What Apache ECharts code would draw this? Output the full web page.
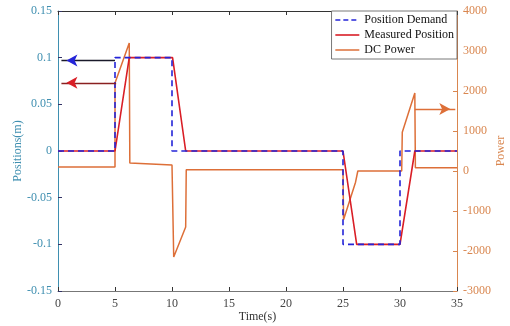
<!DOCTYPE html>
<html>
<head>
<meta charset="utf-8">
<script src="https://cdn.jsdelivr.net/npm/echarts@6/dist/echarts.min.js"></script>
<style>html,body{margin:0;padding:0;background:#fff}#c{width:510px;height:326px}</style>
</head>
<body>
<div id="c"></div>
<script>
// ---- data ----
const xTicks = [0, 5, 10, 15, 20, 25, 30, 35];
const demandTime = [0, 5, 5, 10, 10, 25, 25, 30, 30, 35];
const demandPos  = [0, 0, 0.1, 0.1, 0, 0, -0.1, -0.1, 0, 0];
const measuredTime = [0, 5, 6.25, 10.05, 11.2, 25, 26.2, 30, 31.3, 35];
const measuredPos  = [0, 0, 0.1, 0.1, 0, 0, -0.1, -0.1, 0, 0];
const powerTime = [0, 5, 5, 6.25, 6.3, 6.4, 10, 10.05, 10.15, 11.2, 11.25, 25, 25.05, 26.1, 26.3, 30.15, 30.2, 31.3, 31.35, 35];
const powerVal  = [100, 100, 2200, 3200, 200, 150, 150, 150, -2150, -1400, 30, 30, -1220, -280, 0, 0, 970, 1950, 80, 80];
// annotation arrows: [fromX, fromY] -> [toX, toY]
const blueArrow   = [[5.0, 0.097], [0.3, 0.097]];
const redArrow    = [[5.1, 0.073], [0.3, 0.073]];
const orangeArrow = [[31.3, 1550], [34.85, 1550]];

const pair = (xs, ys) => xs.map((x, i) => [x, ys[i]]);

const C_BLUE = '#2424d8', C_RED = '#d91e26', C_ORANGE = '#dd6f38';
const C_LEFT = '#3f8fb0', C_RIGHT = '#d9864f';
const FONT = 'Liberation Serif';

function arrowParts(arr, lineColor, headColor, rot) {
  return {
    markLine: {
      silent: true, symbol: ['none', 'none'], animation: false,
      lineStyle: { color: lineColor, width: 1.3, type: 'solid' },
      label: { show: false },
      data: [[{ coord: arr[0] }, { coord: arr[1] }]]
    },
    markPoint: {
      silent: true, animation: false,
      symbol: 'arrow', symbolSize: [9, 11], symbolRotate: rot,
      symbolOffset: [rot === 90 ? 5 : -5, 0],
      itemStyle: { color: headColor },
      label: { show: false },
      data: [{ coord: arr[1] }]
    }
  };
}

const chart = echarts.init(document.getElementById('c'), null, { renderer: 'canvas' });
const blueA = arrowParts(blueArrow, '#1a1a2a', C_BLUE, 90);
const redA = arrowParts(redArrow, '#8a2020', C_RED, 90);
const orA = arrowParts(orangeArrow, C_ORANGE, C_ORANGE, -90);

chart.setOption({
  animation: false,
  textStyle: { fontFamily: FONT },
  grid: { left: 58, right: 53, top: 11, bottom: 35, containLabel: false, outerBoundsMode: 'none' },
  legend: {
    orient: 'vertical', right: 53, top: 11,
    backgroundColor: '#fff', borderColor: '#555', borderWidth: 0.8, borderRadius: 0,
    padding: [3, 3, 3, 3], itemGap: 3, itemWidth: 24, itemHeight: 10,
    itemStyle: { opacity: 0 },
    textStyle: { fontFamily: FONT, fontSize: 12, color: '#111' },
    data: [
      { name: 'Position Demand', lineStyle: { type: [5, 3], width: 1.6, color: C_BLUE } },
      { name: 'Measured Position', lineStyle: { width: 1.6, color: C_RED } },
      { name: 'DC Power', lineStyle: { width: 1.5, color: C_ORANGE } }
    ]
  },
  xAxis: [{
    type: 'value', min: 0, max: 35, interval: 5, position: 'bottom',
    name: 'Time(s)', nameLocation: 'middle', nameGap: 20, nameMoveOverlap: false,
    nameTextStyle: { fontFamily: FONT, fontSize: 12, color: '#333' },
    axisLine: { onZero: false, lineStyle: { color: '#777' } },
    axisTick: { inside: true, length: 4, lineStyle: { color: '#333' } },
    axisLabel: { fontFamily: FONT, fontSize: 12, color: '#444', margin: 7,
      formatter: v => xTicks.includes(v) ? String(v) : '' },
    splitLine: { show: false }
  }, {
    type: 'value', min: 0, max: 35, interval: 5, position: 'top',
    axisLine: { onZero: false, lineStyle: { color: '#333' } },
    axisTick: { inside: true, length: 4, lineStyle: { color: '#333' } },
    axisLabel: { show: false }, splitLine: { show: false }
  }],
  yAxis: [{
    type: 'value', min: -0.15, max: 0.15, interval: 0.05, position: 'left',
    name: 'Positions(m)', nameLocation: 'middle', nameGap: 34, nameMoveOverlap: false,
    nameTextStyle: { fontFamily: FONT, fontSize: 12, color: C_LEFT },
    axisLine: { show: true, onZero: false, lineStyle: { color: C_LEFT } },
    axisTick: { show: true, inside: true, length: 4, lineStyle: { color: '#336' } },
    axisLabel: { fontFamily: FONT, fontSize: 12, color: C_LEFT, margin: 6,
      formatter: v => { const r = Math.round(v * 100) / 100; return r === 0 ? '0' : String(r); } },
    splitLine: { show: false }
  }, {
    type: 'value', min: -3000, max: 4000, interval: 1000, position: 'right',
    name: 'Power', nameLocation: 'middle', nameGap: 38, nameMoveOverlap: false,
    nameTextStyle: { fontFamily: FONT, fontSize: 12, color: C_RIGHT },
    axisLine: { show: true, onZero: false, lineStyle: { color: C_RIGHT } },
    axisTick: { show: true, inside: true, length: 4, lineStyle: { color: C_RIGHT } },
    axisLabel: { fontFamily: FONT, fontSize: 12, color: C_RIGHT, margin: 6,
      formatter: v => String(Math.round(v)) },
    splitLine: { show: false }
  }],
  series: [{
    name: 'DC Power', type: 'line', yAxisIndex: 1, xAxisIndex: 0,
    symbol: 'none', z: 2,
    lineStyle: { color: C_ORANGE, width: 1.5 }, itemStyle: { color: C_ORANGE },
    data: pair(powerTime, powerVal),
    markLine: orA.markLine, markPoint: orA.markPoint
  }, {
    name: 'Measured Position', type: 'line', yAxisIndex: 0, xAxisIndex: 0,
    symbol: 'none', z: 3,
    lineStyle: { color: C_RED, width: 1.6 }, itemStyle: { color: C_RED },
    data: pair(measuredTime, measuredPos),
    markLine: redA.markLine, markPoint: redA.markPoint
  }, {
    name: 'Position Demand', type: 'line', yAxisIndex: 0, xAxisIndex: 0,
    symbol: 'none', z: 4,
    lineStyle: { color: C_BLUE, width: 1.6, type: [6, 4] }, itemStyle: { color: C_BLUE },
    data: pair(demandTime, demandPos),
    markLine: blueA.markLine, markPoint: blueA.markPoint
  }]
});
</script>
</body>
</html>
